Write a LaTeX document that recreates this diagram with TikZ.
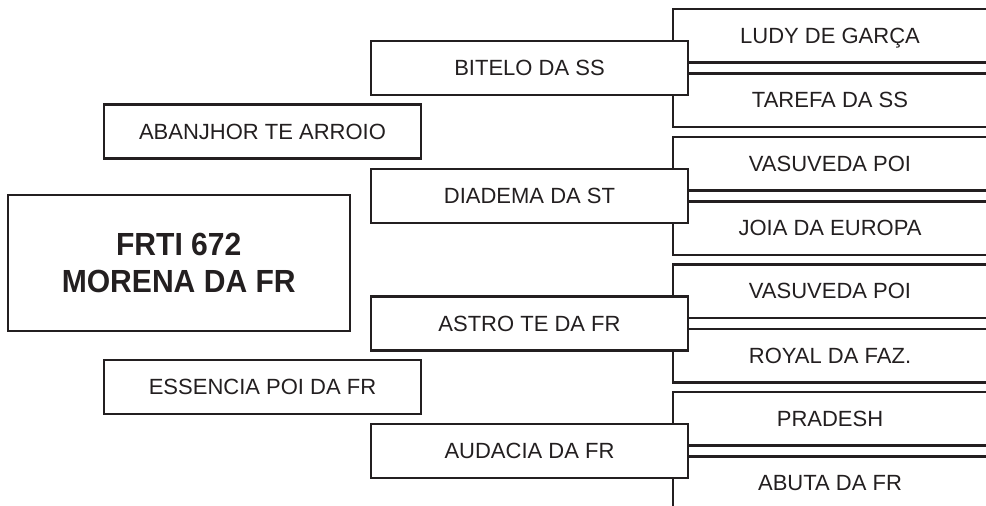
\documentclass[tikz,border=0pt]{standalone}
\usepackage{fontspec}
\setmainfont{Liberation Sans}
\newfontfamily\pedbold{Liberation Sans}[FakeStretch=0.94]
\definecolor{ink}{HTML}{231F20}
\tikzset{
  pedline/.style={draw=ink, line width=2.5pt},
  pedtext/.style={text=ink, inner sep=0pt, font=\fontsize{22}{26}\selectfont,
    text height=15.75pt, text depth=0pt},
  pedbox/.style={pedtext, pedline, fill=white, minimum width=317pt, minimum height=54pt},
  mainbox/.style={pedline, fill=white, text=ink, inner sep=0pt, align=center,
    minimum width=342pt, minimum height=136pt,
    font=\pedbold\bfseries\fontsize{32}{37}\selectfont}
}
\begin{document}
\begin{tikzpicture}[x=1pt, y=-1pt]
    \useasboundingbox (0,0) rectangle (986,506);
    \clip (0,0) rectangle (986,506);

    % Grandparents: open boxes on the right
    \foreach \c/\up/\down [count=\i] in {68/LUDY DE GARÇA/TAREFA DA SS,
        196/VASUVEDA POI/JOIA DA EUROPA, 323.5/VASUVEDA POI/ROYAL DA FAZ.,
        451/PRADESH/ABUTA DA FR} {
        \draw[pedline] (990,\c-59) -| (673,\c+59) -- (990,\c+59);
        \node[pedtext] (gu\i) at (830,\c-32.5) {\up};
        \node[pedtext] (gd\i) at (830,\c+32) {\down};
    }

    % Parents
    \node[pedbox] (bitelo) at (529.5,68) {BITELO DA SS};
    \node[pedbox] (diadema) at (529.5,196) {DIADEMA DA ST};
    \node[pedbox] (astro) at (529.5,323.5) {ASTRO TE DA FR};
    \node[pedbox] (audacia) at (529.5,451) {AUDACIA DA FR};

    % Double lines between the grandparents
    \foreach \p in {bitelo, diadema, astro, audacia} {
        \draw[pedline] ([yshift=5.5pt]\p.east) -- ++(310,0);
        \draw[pedline] ([yshift=-5.5pt]\p.east) -- ++(310,0);
    }

    % Left column
    \node[pedbox] (abanjhor) at (262.5,131.5) {ABANJHOR TE ARROIO};
    \node[pedbox] (essencia) at (262.5,387) {ESSENCIA POI DA FR};
    \node[mainbox] (morena) at (178.75,263) {FRTI 672\\MORENA DA FR};
\end{tikzpicture}
\end{document}
